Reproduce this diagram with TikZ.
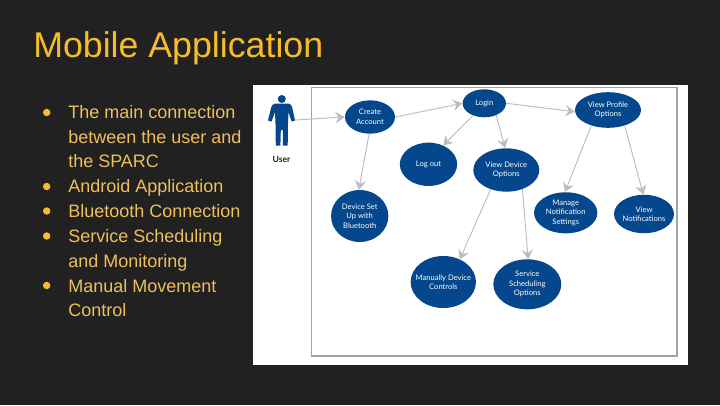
\documentclass[tikz,border=0pt]{standalone}
\usepackage{fontspec}
\setmainfont{Liberation Sans}
\newfontfamily\diagfont{Lato}
\usetikzlibrary{shapes.geometric,arrows.meta}
\definecolor{slidebg}{HTML}{212121}
\definecolor{gold}{HTML}{F5BD2A}
\definecolor{bodygold}{HTML}{EFC05A}
\definecolor{navy}{HTML}{04478C}
\definecolor{edgegrey}{HTML}{BDBDBD}
\definecolor{framegrey}{HTML}{9CA2AE}
\tikzset{
  px/.style={x=0.75pt,y=-0.75pt},
  usecase/.style={ellipse,fill=navy,text=white,inner xsep=-9pt,inner ysep=-7pt,align=center,font=\diagfont\fontsize{5.7pt}{7.1pt}\selectfont},
  link/.style={draw=edgegrey,line width=0.7pt,-{Stealth[length=7pt,width=8.5pt,inset=2.5pt]}},
  bullettext/.style={anchor=base west,text=bodygold,font=\fontsize{13.5pt}{18.6pt}\selectfont,align=left,inner sep=0pt},
  bulletdot/.style={circle,fill=gold,inner sep=0pt,minimum size=5.6pt}
}
\begin{document}
\begin{tikzpicture}[px]
\useasboundingbox (0,0) rectangle (720,405);
\fill[slidebg] (0,0) rectangle (720,405);
\node[anchor=base west,text=gold,font=\fontsize{26.8pt}{30pt}\selectfont,inner sep=0pt] (title) at (33,57) {Mobile Application};
\node[bulletdot] (b1) at (46.7,112.5) {};
\node[bulletdot] (b2) at (46.7,186.5) {};
\node[bulletdot] (b3) at (46.7,211) {};
\node[bulletdot] (b4) at (46.7,236) {};
\node[bulletdot] (b5) at (46.7,285.5) {};
\node[bullettext] (t1) at (68,167.8) {The main connection\\between the user and\\the SPARC};
\node[bullettext] (t2) at (68,192.8) {Android Application};
\node[bullettext] (t3) at (68,217.3) {Bluetooth Connection};
\node[bullettext] (t4) at (68,267.3) {Service Scheduling\\and Monitoring};
\node[bullettext] (t5) at (68,316.8) {Manual Movement\\Control};
\fill[white] (253,85) rectangle (688,365);
\draw[framegrey,line width=0.8pt] (311.7,87.3) rectangle (677,356);
% actor
\fill[navy] (281.8,99) circle (4);
\fill[navy] (275.5,103.5) -- (288.5,103.5) .. controls (291,104) and (291.8,105.5) .. (292.3,108) -- (295,120.5) -- (291.5,121.5) -- (288.5,112) -- (288,124) -- (287.7,145.5) -- (283,145.5) -- (282.8,130) -- (280.8,130) -- (280.4,145.5) -- (275.8,145.5) -- (275.5,124) -- (275,112) -- (271.5,121.5) -- (268,120.5) -- (271,108) .. controls (271.5,105.5) and (272.5,104) .. (275.5,103.5) -- cycle;
\coordinate (userhand) at (295,120);
\node[font=\diagfont\bfseries\fontsize{6.5pt}{7pt}\selectfont,text=black!85,inner sep=0pt] (userlabel) at (281.5,159) {User};
% use cases
\node[usecase,minimum width=37.5pt,minimum height=25pt] (create) at (370,117) {Create\\Account};
\node[usecase,minimum width=43pt,minimum height=32.5pt] (logout) at (428.5,164.3) {Log out};
\node[usecase,minimum width=43pt,minimum height=39pt] (setup) at (359.7,216) {Device Set\\Up with\\Bluetooth};
\node[usecase,minimum width=32.5pt,minimum height=21pt] (login) at (484.3,103.3) {Login};
\node[usecase,minimum width=49.5pt,minimum height=26.7pt] (profile) at (608,110) {View Profile\\Options};
\node[usecase,minimum width=49.5pt,minimum height=32.5pt] (device) at (506.3,170) {View Device\\Options};
\node[usecase,minimum width=47.5pt,minimum height=30.8pt] (manage) at (565.7,212.8) {Manage\\Notification\\Settings};
\node[usecase,minimum width=45pt,minimum height=28.8pt] (notif) at (644,214) {View\\Notifications};
\node[usecase,minimum width=49pt,minimum height=39pt] (manual) at (443.3,282) {Manually Device\\Controls};
\node[usecase,minimum width=51pt,minimum height=37.5pt] (service) at (527.3,284.3) {Service\\Scheduling\\Options};
% connectors
\draw[link] (userhand) -- (create.west);
\draw[link] (create.0) -- (login.180);
\draw[link] (create.267) -- (setup.92);
\draw[link] (login.227) -- (logout.52);
\draw[link] (login.315) -- (device.93);
\draw[link] (login.0) -- (profile.183);
\draw[link] (profile.223) -- (manage.92);
\draw[link] (profile.317) -- (notif.92);
\draw[link] (device.231) -- (manual.54);
\draw[link] (device.310) -- (service.88);
\end{tikzpicture}
\end{document}
